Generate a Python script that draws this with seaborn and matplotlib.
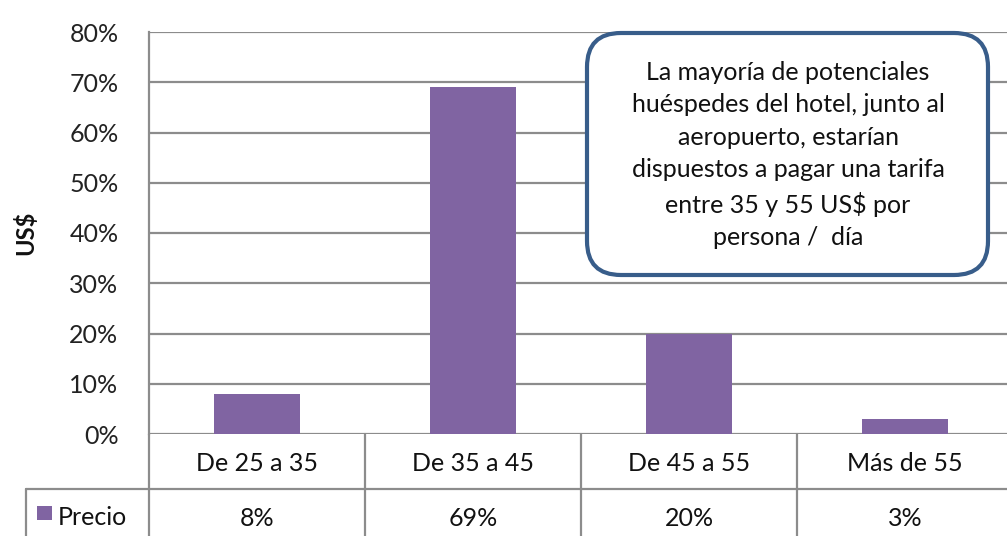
import matplotlib
matplotlib.use("Agg")
import matplotlib.pyplot as plt
import seaborn as sns
import pandas as pd
from matplotlib.patches import FancyBboxPatch, Rectangle
from matplotlib.transforms import IdentityTransform
from matplotlib.ticker import FuncFormatter, MultipleLocator

# Data
categories = ["De 25 a 35", "De 35 a 45", "De 45 a 55", "Más de 55"]
precio = [8, 69, 20, 3]
series_name = "Precio"
y_label = "US$"
note = ("La mayoría de potenciales\nhuéspedes del hotel, junto al\n"
        "aeropuerto, estarían\ndispuestos a pagar una tarifa\n"
        "entre 35 y 55 US$ por\npersona /  día")

BAR = "#8064A2"
GRID = "#8C8C8C"
BORDER = "#385D8A"

sns.set_theme(style="white")
plt.rcParams["font.family"] = ["Lato", "DejaVu Sans"]

W, H = 1007, 536
fig = plt.figure(figsize=(W / 100, H / 100), dpi=100)

def px_axes(left, top, right, bottom):
    return fig.add_axes([left / W, (H - bottom) / H, (right - left) / W, (bottom - top) / H])

# main bar area; the fourth column runs slightly past the right edge
ax = px_axes(149, 32, 1013, 434)
df = pd.DataFrame({"cat": categories, "val": precio})
sns.barplot(data=df, x="cat", y="val", color=BAR, width=0.4, saturation=1,
            linewidth=0, ax=ax, zorder=3)
ax.set_xlim(-0.5, 3.5)
ax.set_ylim(0, 80)
ax.yaxis.set_major_locator(MultipleLocator(10))
ax.yaxis.set_major_formatter(FuncFormatter(lambda v, _: f"{v:.0f}%"))
ax.grid(axis="y", color=GRID, linewidth=1.6, zorder=0)
ax.set_axisbelow(True)
for s in ["top", "right", "bottom"]:
    ax.spines[s].set_visible(False)
ax.spines["left"].set_color(GRID)
ax.spines["left"].set_linewidth(1.6)
ax.set_xticks([])
ax.set_xlabel("")
ax.tick_params(axis="y", length=0, pad=22, labelsize=18, labelcolor="#222222")
ax.set_ylabel(y_label, fontsize=17, fontweight="bold", color="#111111")
ax.yaxis.set_label_coords(-112 / 864, 0.5)

# data table beneath the bars
tab = px_axes(149, 434, 1013, 544)
tab.set_xlim(-0.5, 3.5)
tab.set_ylim(0, 2)
tab.axis("off")
leg_left = -0.5 - (149 - 26) / 216
lk = dict(color=GRID, linewidth=1.6, clip_on=False)
for xv in [-0.5, 0.5, 1.5, 2.5, 3.5]:
    tab.plot([xv, xv], [0, 2], **lk)
tab.plot([leg_left, 3.5], [1, 1], **lk)
tab.plot([leg_left, leg_left], [0, 1], **lk)
for i, (c, v) in enumerate(zip(categories, precio)):
    tab.text(i, 1.47, c, ha="center", va="center", fontsize=18, color="#111111")
    tab.text(i, 0.47, f"{v}%", ha="center", va="center", fontsize=18, color="#111111")
tab.add_patch(Rectangle((leg_left + 11 / 216, 0.43), 15 / 216, 14 / 55,
                        facecolor=BAR, edgecolor="none", clip_on=False))
tab.text(leg_left + 32 / 216, 0.49, series_name, ha="left", va="center",
         fontsize=18, color="#111111")

# callout box
box = FancyBboxPatch((587, H - 275), 401, 242,
                     boxstyle="round,pad=0,rounding_size=34",
                     facecolor="white", edgecolor=BORDER, linewidth=3,
                     transform=IdentityTransform(), zorder=5)
fig.patches.append(box)
fig.text(788 / W, (H - 155) / H, note, ha="center", va="center",
         fontsize=18, linespacing=1.5, color="#111111", zorder=6)

fig.savefig("out.png", dpi=100)
